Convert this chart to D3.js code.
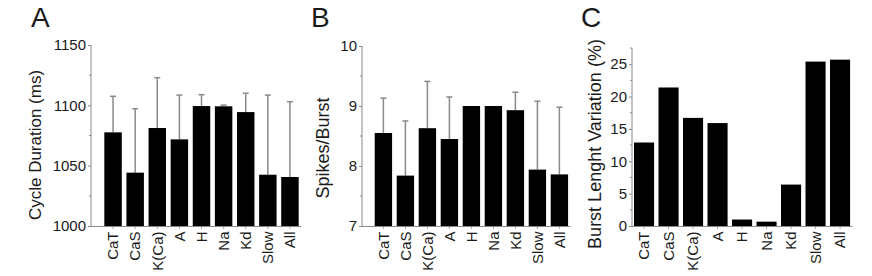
<!DOCTYPE html>
<html>
<head>
<meta charset="utf-8">
<script src="https://cdn.jsdelivr.net/npm/d3@7"></script>
<style>
  body { margin: 0; background: #fff; }
  svg { display: block; font-family: "Liberation Sans", Arial, sans-serif; }
</style>
</head>
<body>
<svg id="chart" width="872" height="276"></svg>
<script>
const categories = ["CaT", "CaS", "K(Ca)", "A", "H", "Na", "Kd", "Slow", "All"];

const cycleMean = [1077.6, 1044.2, 1081.2, 1071.8, 1099.4, 1099.2, 1094.4, 1042.5, 1040.6];
const cycleErrTop = [1107.5, 1097.2, 1122.9, 1108.5, 1108.8, 1100.2, 1110.0, 1108.5, 1103.0];

const spikesMean = [8.55, 7.84, 8.63, 8.45, 9.0, 9.0, 8.93, 7.94, 7.86];
const spikesErrTop = [9.13, 8.75, 9.41, 9.15, 9.0, 9.0, 9.23, 9.08, 8.98];

const burstVar = [12.9, 21.4, 16.7, 15.9, 1.0, 0.67, 6.4, 25.4, 25.7];

const cycleTicks = [1000, 1050, 1100, 1150];
const spikesTicks = [7, 8, 9, 10];
const burstTicks = [0, 5, 10, 15, 20, 25];

const svg = d3.select("#chart");
const textColor = "#1a1a1a";
const axisColor = "#8a8a8a";
const errColor = "#8a8a8a";

function panel(cfg) {
  const g = svg.append("g");
  const y = d3.scaleLinear().domain(cfg.domain).range([226, cfg.yTop]);
  const x = d3.scaleBand().domain(categories).range(cfg.xRange)
    .paddingInner(cfg.padIn).paddingOuter(cfg.padOut);

  // minor ticks
  const minor = d3.range(cfg.domain[0], cfg.domain[1] + 1e-9, cfg.minorStep)
    .filter(v => !cfg.ticks.some(t => Math.abs(t - v) < 1e-9));
  g.selectAll(".minor").data(minor).join("line")
    .attr("x1", cfg.axisX - 2).attr("x2", cfg.axisX)
    .attr("y1", d => y(d)).attr("y2", d => y(d))
    .attr("stroke", axisColor).attr("stroke-width", 1);

  // y axis
  const yAxis = d3.axisLeft(y).tickValues(cfg.ticks).tickSize(3).tickPadding(2)
    .tickFormat(cfg.fmt);
  const ya = g.append("g").attr("transform", `translate(${cfg.axisX},0)`).call(yAxis);
  ya.select(".domain").attr("stroke", axisColor).attr("d", `M-0,${y(cfg.domain[1])}V226`);
  ya.selectAll(".tick line").attr("stroke", axisColor);
  ya.selectAll(".tick text").attr("fill", textColor).style("font-size", "15px")
    .style("font-family", "Liberation Sans, Arial, sans-serif");

  // x baseline
  g.append("line").attr("x1", cfg.axisX).attr("x2", cfg.xRange[1])
    .attr("y1", 226.5).attr("y2", 226.5).attr("stroke", axisColor).attr("stroke-width", 1);

  // x ticks & labels
  const xAxis = d3.axisBottom(x).tickSize(2).tickPadding(3);
  const xa = g.append("g").attr("transform", "translate(0,226.5)").call(xAxis);
  xa.select(".domain").remove();
  xa.selectAll(".tick line").attr("stroke", axisColor);
  xa.selectAll(".tick text")
    .attr("fill", textColor).style("font-size", "15px")
    .style("font-family", "Liberation Sans, Arial, sans-serif")
    .attr("text-anchor", "end")
    .attr("transform", "rotate(-90)")
    .attr("x", -5).attr("y", 0).attr("dy", "0.35em");

  // error bars
  if (cfg.errTop) {
    const eg = g.append("g");
    categories.forEach((c, i) => {
      const cx = x(c) + x.bandwidth() / 2;
      if (cfg.errTop[i] - cfg.values[i] > 1e-6) {
        eg.append("line").attr("x1", cx).attr("x2", cx)
          .attr("y1", y(cfg.values[i])).attr("y2", y(cfg.errTop[i]))
          .attr("stroke", errColor).attr("stroke-width", 1.5);
        eg.append("line").attr("x1", cx - 3).attr("x2", cx + 3)
          .attr("y1", y(cfg.errTop[i])).attr("y2", y(cfg.errTop[i]))
          .attr("stroke", errColor).attr("stroke-width", 1.5);
      }
    });
  }

  // bars
  g.selectAll(".bar").data(categories).join("rect")
    .attr("x", d => x(d)).attr("width", x.bandwidth())
    .attr("y", (d, i) => y(cfg.values[i]))
    .attr("height", (d, i) => 226 - y(cfg.values[i]))
    .attr("fill", "#000");

  // y label
  g.append("text")
    .attr("transform", `translate(${cfg.labelX},${cfg.labelY}) rotate(-90)`)
    .attr("text-anchor", "middle").attr("dy", "0.35em")
    .attr("fill", textColor).style("font-size", cfg.labelSize + "px")
    .text(cfg.label);

  // panel letter
  g.append("text").attr("x", cfg.letterX).attr("y", 27)
    .attr("fill", textColor).style("font-size", "28px").text(cfg.letter);
}

panel({
  values: cycleMean, errTop: cycleErrTop, domain: [1000, 1150], ticks: cycleTicks,
  minorStep: 25, yTop: 45, axisX: 91, xRange: [102, 301], padIn: 0.21, padOut: 0.105,
  fmt: d3.format("d"), label: "Cycle Duration (ms)", labelX: 35, labelY: 145, labelSize: 17,
  letter: "A", letterX: 31
});
panel({
  values: spikesMean, errTop: spikesErrTop, domain: [7, 10], ticks: spikesTicks,
  minorStep: 0.5, yTop: 46, axisX: 362, xRange: [372.4, 570.4], padIn: 0.21, padOut: 0.105,
  fmt: d3.format("d"), label: "Spikes/Burst", labelX: 323, labelY: 148, labelSize: 18,
  letter: "B", letterX: 311
});
panel({
  values: burstVar, errTop: null, domain: [0, 27.5], ticks: burstTicks,
  minorStep: 2.5, yTop: 48, axisX: 632, xRange: [631.8, 852.3], padIn: 0.18, padOut: 0.09,
  fmt: d3.format("d"), label: "Burst Lenght Variation (%)", labelX: 595, labelY: 144, labelSize: 18,
  letter: "C", letterX: 581
});
</script>
</body>
</html>
